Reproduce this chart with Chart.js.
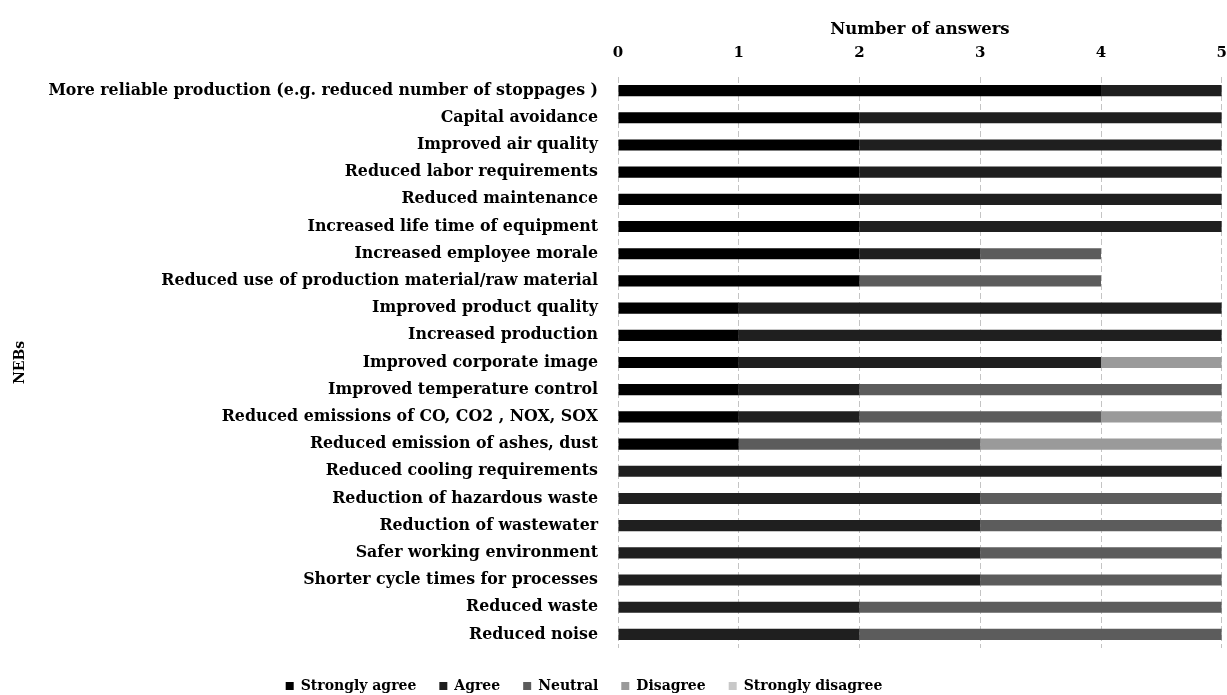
<!DOCTYPE html>
<html>
<head>
<meta charset="utf-8">
<script src="https://cdn.jsdelivr.net/npm/chart.js@4/dist/chart.umd.min.js"></script>
<style>
  html, body { margin: 0; padding: 0; background: #ffffff; }
  #wrap { width: 1227px; height: 695px; }
</style>
</head>
<body>
<div id="wrap"><canvas id="c" width="1227" height="695"></canvas></div>
<script>
const categories = [
  "More reliable production (e.g. reduced number of stoppages )",
  "Capital avoidance",
  "Improved air quality",
  "Reduced labor requirements",
  "Reduced maintenance",
  "Increased life time of equipment",
  "Increased employee morale",
  "Reduced use of production material/raw material",
  "Improved product quality",
  "Increased production",
  "Improved corporate image",
  "Improved temperature control",
  "Reduced emissions of CO, CO2 , NOX, SOX",
  "Reduced emission of ashes, dust",
  "Reduced cooling requirements",
  "Reduction of hazardous waste",
  "Reduction of wastewater",
  "Safer working environment",
  "Shorter cycle times for processes",
  "Reduced waste",
  "Reduced noise"
];
const seriesNames = ["Strongly agree", "Agree", "Neutral", "Disagree", "Strongly disagree"];
const stronglyAgree    = [4, 2, 2, 2, 2, 2, 2, 2, 1, 1, 1, 1, 1, 1, 0, 0, 0, 0, 0, 0, 0];
const agree            = [1, 3, 3, 3, 3, 3, 1, 0, 4, 4, 3, 1, 1, 0, 5, 3, 3, 3, 3, 2, 2];
const neutral          = [0, 0, 0, 0, 0, 0, 1, 2, 0, 0, 0, 3, 2, 2, 0, 2, 2, 2, 2, 3, 3];
const disagree         = [0, 0, 0, 0, 0, 0, 0, 0, 0, 0, 1, 0, 1, 2, 0, 0, 0, 0, 0, 0, 0];
const stronglyDisagree = [0, 0, 0, 0, 0, 0, 0, 0, 0, 0, 0, 0, 0, 0, 0, 0, 0, 0, 0, 0, 0];
const xTickValues = [0, 1, 2, 3, 4, 5];
const xAxisTitle = "Number of answers";
const yAxisTitle = "NEBs";

const seriesValues = [stronglyAgree, agree, neutral, disagree, stronglyDisagree];
const seriesColors = ["#000000", "#1f1f1f", "#5c5c5c", "#9a9a9a", "#c8c8c8"];

Chart.defaults.font.family = "'DejaVu Serif', 'Liberation Serif', serif";
Chart.defaults.font.weight = "bold";
Chart.defaults.font.size = 14;
Chart.defaults.color = "#000000";

const legendShift = {
  id: "legendShift",
  afterLayout(chart) {
    const l = chart.legend;
    if (!l) return;
    const dx = -32, dy = 8;
    l.left += dx; l.right += dx;
    l.top += dy; l.bottom += dy;
  }
};

new Chart(document.getElementById("c"), {
  type: "bar",
  data: {
    labels: categories,
    datasets: seriesNames.map((name, i) => ({
      label: name,
      data: seriesValues[i],
      backgroundColor: seriesColors[i],
      borderWidth: 0,
      barPercentage: 0.41,
      categoryPercentage: 1.0
    }))
  },
  options: {
    indexAxis: "y",
    responsive: false,
    animation: false,
    devicePixelRatio: 1,
    layout: { padding: { top: 10, left: 10, right: 5, bottom: 0 } },
    scales: {
      x: {
        position: "top",
        stacked: true,
        min: 0,
        max: 5,
        afterBuildTicks(scale) {
          scale.ticks = xTickValues.map(v => ({ value: v }));
        },
        afterFit(scale) { scale.height = 67; },
        ticks: { padding: 0, font: { size: 15, weight: "bold" }, color: "#000" },
        grid: { color: "#c4c4c4", lineWidth: 1, drawTicks: true, tickLength: 15, tickColor: "rgba(0,0,0,0)" },
        border: { display: false, dash: [6, 3] },
        title: {
          display: true,
          text: xAxisTitle,
          font: { size: 16.5, weight: "bold" },
          color: "#000",
          padding: { top: 10, bottom: 0 }
        }
      },
      y: {
        stacked: true,
        afterFit(scale) { scale.width = 608; },
        ticks: { padding: 20, autoSkip: false, font: { size: 15.8, weight: "bold" }, color: "#000" },
        grid: { display: false, drawTicks: false },
        border: { display: false },
        title: {
          display: true,
          text: yAxisTitle,
          font: { size: 14, weight: "bold" },
          color: "#000",
          padding: { top: 2, bottom: 0 }
        }
      }
    },
    plugins: {
      legend: {
        position: "bottom",
        labels: {
          boxWidth: 8,
          boxHeight: 8,
          padding: 23,
          font: { size: 14, weight: "bold" },
          color: "#000"
        }
      },
      tooltip: { enabled: false }
    }
  },
  plugins: [legendShift]
});
</script>
</body>
</html>
